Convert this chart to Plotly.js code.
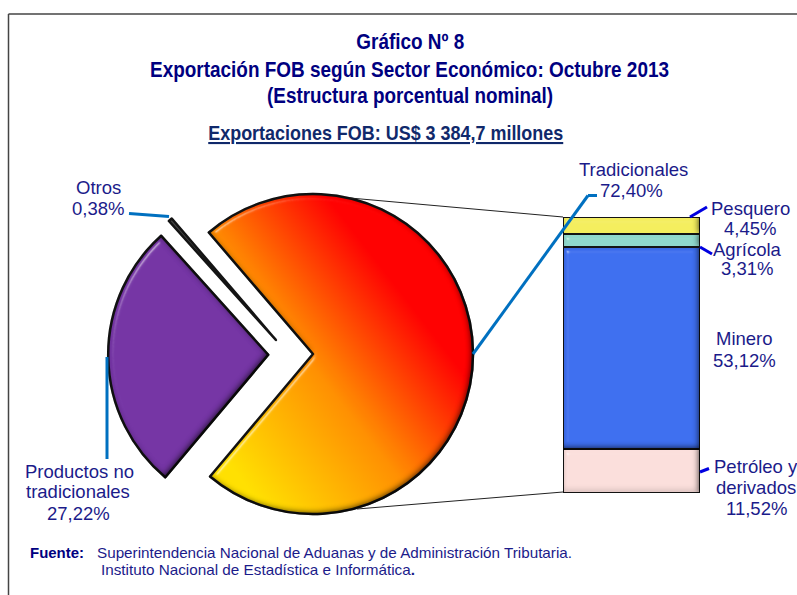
<!DOCTYPE html>
<html><head><meta charset="utf-8">
<script src="https://cdn.plot.ly/plotly-3.0.1.min.js"></script>
<style>html,body{margin:0;padding:0;background:#fff;overflow:hidden}</style>
</head><body><div id="chart" style="width:797px;height:595px"></div>
<script>
const sectorLabels = ['Tradicionales', 'Productos no tradicionales', 'Otros'];
const sectorValues = [72.40, 27.22, 0.38];
const sectorColors = ['#ff7a00', '#7535a5', '#444444'];
const sectorPull = [0, 0.28, 0.2];
const tradLabels = ['Petróleo y derivados', 'Minero', 'Agrícola', 'Pesquero'];
const tradValues = [11.52, 53.12, 3.31, 4.45];
const tradColors = ['#fbdfdc', '#3e6ff0', '#8fd8cc', '#f4ee5e'];

const W = 797, H = 595;
const px = x => x / W, py = y => 1 - y / H;
const cx = 313, cy = 354, r = 160, maxPull = Math.max(...sectorPull);
const R = r * (1 + maxPull);

const pie = {
  type: 'pie', labels: sectorLabels, values: sectorValues, sort: false, direction: 'clockwise',
  rotation: -40.6, pull: sectorPull, textinfo: 'none', hoverinfo: 'label+percent',
  marker: {colors: sectorColors, line: {color: '#141414', width: 2.5}},
  domain: {x: [px(cx - R), px(cx + R)], y: [py(cy + R), py(cy - R)]}, showlegend: false
};
const bars = tradLabels.map((n, i) => ({
  type: 'bar', name: n, x: ['Tradicionales'], y: [tradValues[i]], xaxis: 'x', yaxis: 'y', showlegend: false,
  marker: {color: tradColors[i], line: {color: '#141414', width: 2.5}}
}));

const navy = '#000080', lab = '#1b1b8a';
const SANS = 'Liberation Sans, Arial, sans-serif';
const txt = (x, y, text, size, color, extra) => Object.assign({
  xref: 'paper', yref: 'paper', x: px(x), y: py(y), text, showarrow: false, xanchor: 'center', yanchor: 'middle',
  align: 'center', font: {family: SANS, size, color}, borderpad: 0
}, extra || {});
const seg = (x0, y0, x1, y1, color, width) => ({
  type: 'line', xref: 'paper', yref: 'paper', x0: px(x0), y0: py(y0), x1: px(x1), y1: py(y1),
  line: {color, width}
});
const LS = 18.5;
const left = {xanchor: 'left', align: 'left'};
const titleWidths = [108, 519, 286, 355];
const sourceWidths = [54, 475, 314];
const annotations = [
  txt(410, 42, '<b>Gráfico Nº 8</b>', 21.5, navy),
  txt(409.5, 70, '<b>Exportación FOB según Sector Económico: Octubre 2013</b>', 21.5, navy),
  txt(410, 96, '<b>(Estructura porcentual nominal)</b>', 21.5, navy),
  txt(385.5, 132, '<b><u>Exportaciones FOB: US$ 3 384,7 millones</u></b>', 21, '#10296b'),
  txt(29, 552, '<b>Fuente:</b>', 15, navy, left),
  txt(96, 552, 'Superintendencia Nacional de Aduanas y de Administración Tributaria.', 15, lab, left),
  txt(100, 569.5, 'Instituto Nacional de Estadística e Informática<b>.</b>', 15, lab, left),
  txt(98, 187, 'Otros', LS, lab), txt(98, 208, '0,38%', LS, lab),
  txt(79, 471, 'Productos no', LS, lab), txt(78, 492, 'tradicionales', LS, lab), txt(78, 513, '27,22%', LS, lab),
  txt(633, 169, 'Tradicionales', LS, lab), txt(631, 191, '72,40%', LS, lab),
  txt(750, 209, 'Pesquero', LS, lab), txt(750, 229, '4,45%', LS, lab),
  txt(747, 249, 'Agrícola', LS, lab), txt(747, 268, '3,31%', LS, lab),
  txt(744, 338, 'Minero', LS, lab), txt(744, 360, '53,12%', LS, lab),
  txt(756, 466, 'Petróleo y', LS, lab), txt(756, 487, 'derivados', LS, lab), txt(756, 508, '11,52%', LS, lab)
];
const shapes = [
  seg(8.5, 14, 797, 14, '#444', 1.5), seg(8.5, 14, 8.5, 595, '#444', 1.5),
  seg(350, 198, 563, 217, '#222', 1), seg(357, 509, 563, 492, '#222', 1),
  seg(129, 213.5, 169, 216.5, '#0070c0', 3),
  seg(107, 357, 107, 459, '#0070c0', 3),
  seg(473, 354, 588, 195.5, '#0070c0', 3), seg(588, 195.5, 597, 195.5, '#0070c0', 3),
  seg(690, 217, 707, 207, '#0000e0', 3),
  seg(700, 247, 712, 254, '#0000e0', 3),
  seg(700, 472, 709, 468.5, '#0000e0', 3)
];
const layout = {
  width: W, height: H, margin: {l: 0, r: 0, t: 0, b: 0}, paper_bgcolor: '#fff', plot_bgcolor: 'rgba(0,0,0,0)',
  barmode: 'stack', bargap: 0,
  xaxis: {domain: [px(563), px(700)], visible: false, fixedrange: true},
  yaxis: {domain: [py(493), py(217)], range: [0, 72.4], visible: false, fixedrange: true},
  annotations, shapes
};
Plotly.newPlot('chart', [pie, ...bars], layout, {displayModeBar: false}).then(gd => {
  const svg = gd.querySelector('.main-svg');
  const ns = 'http://www.w3.org/2000/svg';
  const defs = document.createElementNS(ns, 'defs');
  defs.innerHTML = `
  <linearGradient id="gSun" x1="0.92" y1="0.18" x2="0.1" y2="0.95">
    <stop offset="0.2" stop-color="#ff0000"/><stop offset="0.56" stop-color="#ff9000"/><stop offset="0.95" stop-color="#ffe000"/>
  </linearGradient>
  <filter id="bevel" x="-5%" y="-5%" width="110%" height="110%" color-interpolation-filters="sRGB">
    <feGaussianBlur in="SourceAlpha" stdDeviation="3" result="b"/>
    <feSpecularLighting in="b" surfaceScale="5" specularConstant="0.5" specularExponent="70" lighting-color="#ffffff" result="s">
      <feDistantLight azimuth="225" elevation="50"/>
    </feSpecularLighting>
    <feComposite in="s" in2="SourceAlpha" operator="in" result="sc"/>
    <feFlood flood-color="#000" flood-opacity="0.8"/>
    <feComposite in2="SourceAlpha" operator="out" result="o"/>
    <feOffset in="o" dx="-2" dy="-2" result="oo"/>
    <feGaussianBlur in="oo" stdDeviation="3" result="ob"/>
    <feComposite in="ob" in2="SourceAlpha" operator="in" result="inner"/>
    <feMerge><feMergeNode in="SourceGraphic"/><feMergeNode in="inner"/><feMergeNode in="sc"/></feMerge>
  </filter>`;
  svg.insertBefore(defs, svg.firstChild);
  const slices = gd.querySelectorAll('.slice path.surface');
  slices[0].style.fill = 'url(#gSun)';
  slices[0].style.filter = 'url(#bevel)';
  slices[1].style.filter = 'url(#bevel)';
  slices[2].setAttribute('transform', 'translate(-16,10)');
  gd.querySelectorAll('.barlayer .point path').forEach(p => { p.style.filter = 'url(#bevel)'; });
  const fit = titleWidths.concat(sourceWidths);
  gd.querySelectorAll('.annotation-text-g text').forEach((t, i) => {
    if (i < fit.length) { t.setAttribute('textLength', fit[i]); t.setAttribute('lengthAdjust', 'spacingAndGlyphs'); }
  });
});
</script></body></html>
